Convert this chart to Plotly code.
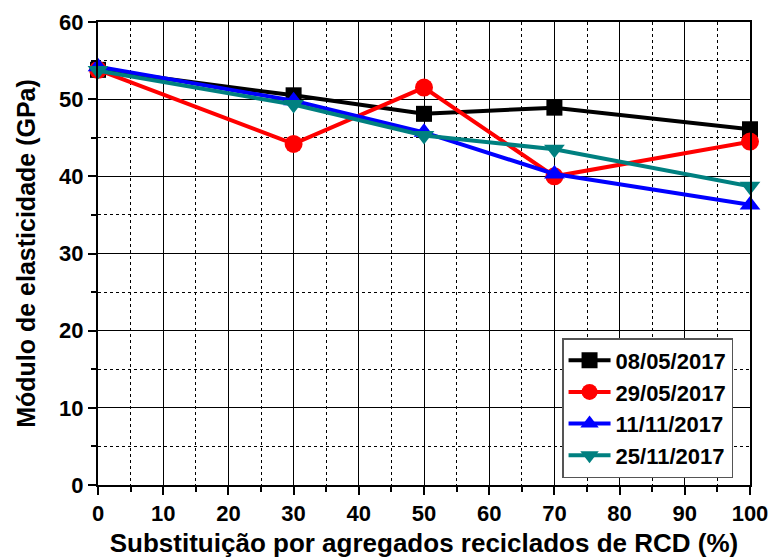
import plotly.graph_objects as go

x_vals = [0, 30, 50, 70, 100]
series_names = ["08/05/2017", "29/05/2017", "11/11/2017", "25/11/2017"]
s1 = [53.8, 50.5, 48.1, 48.9, 46.1]
s2 = [53.8, 44.2, 51.5, 40.0, 44.5]
s3 = [54.2, 49.8, 45.7, 40.3, 36.3]
s4 = [53.7, 49.3, 45.3, 43.5, 38.7]
colors = ["#000000", "#ff0000", "#0000ff", "#008080"]
symbols = ["square", "circle", "triangle-up", "triangle-down"]
marker_sizes = [16, 18, 18, 18]

fig = go.Figure()
for name, ys, c, sym, ms in zip(series_names, [s1, s2, s3, s4], colors, symbols, marker_sizes):
    fig.add_trace(go.Scatter(
        x=x_vals, y=ys, name=name, mode="lines+markers",
        line=dict(color=c, width=4),
        marker=dict(color=c, symbol=sym, size=ms),
        cliponaxis=False,
    ))

font_main = "Arial, Liberation Sans, sans-serif"
axis_common = dict(
    showline=True, linecolor="black", linewidth=2, mirror=True,
    ticks="outside", ticklen=8, tickwidth=2, tickcolor="black",
    showgrid=True, gridcolor="black", gridwidth=1.2,
    zeroline=False, automargin=False,
    tickfont=dict(family=font_main, size=22, color="black", weight="bold"),
    minor=dict(dtick=5, ticks="outside", ticklen=5, tickwidth=2, tickcolor="black",
               showgrid=True, gridcolor="black", gridwidth=1, griddash="dot"),
)

fig.update_layout(
    width=771, height=558,
    margin=dict(l=98, r=21, t=22, b=73),
    paper_bgcolor="white", plot_bgcolor="white",
    font=dict(family=font_main, color="black"),
    xaxis=dict(range=[0, 100], dtick=10, tick0=0,
               title=dict(text="Substituição por agregados reciclados de RCD (%)",
                          font=dict(family=font_main, size=26, color="black", weight="bold"),
                          standoff=8),
               **axis_common),
    yaxis=dict(range=[0, 60], dtick=10, tick0=0,
               title=dict(text="Módulo de elasticidade (GPa)",
                          font=dict(family=font_main, size=25, color="black", weight="bold"),
                          standoff=16),
               **axis_common),
    legend=dict(x=0.974, y=0.015, xanchor="right", yanchor="bottom",
                bgcolor="white", bordercolor="#555555", borderwidth=1.5,
                font=dict(family=font_main, size=22, color="black", weight="bold"),
                itemwidth=42, tracegroupgap=0),
    showlegend=True,
)

fig.write_html("out.html")
